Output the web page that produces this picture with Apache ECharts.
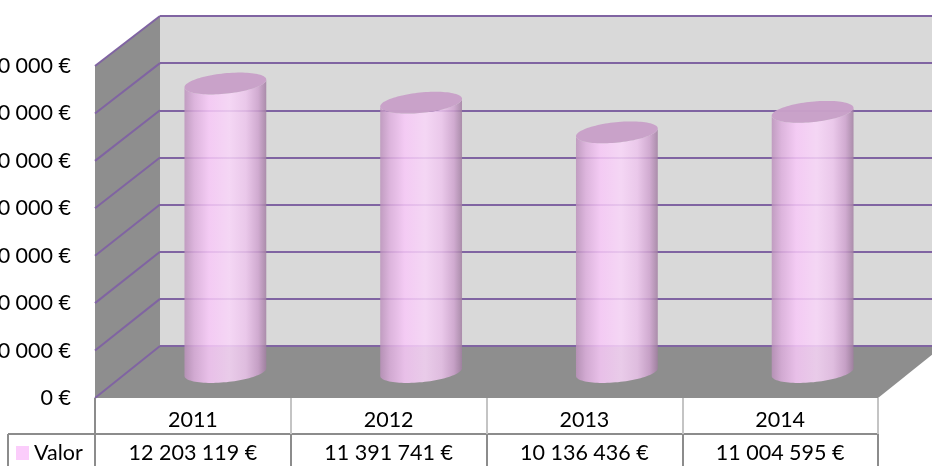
<!DOCTYPE html>
<html><head><meta charset="utf-8">
<script src="https://cdn.jsdelivr.net/npm/echarts/dist/echarts.min.js"></script>
<style>html,body{margin:0;padding:0;background:#fff}#c{width:932px;height:466px}</style>
</head><body><div id="c"></div>
<script>
const categories = ['2011', '2012', '2013', '2014'];
const values = [12203119, 11391741, 10136436, 11004595];
const seriesName = 'Valor';
const yMin = 0, yMax = 14000000, yStep = 2000000;

function fmt(v) { return String(Math.round(v)).replace(/\B(?=(\d{3})+(?!\d))/g, ' ') + ' €'; }

const FONT = 'Lato';
const FS = 21.5;
const PURPLE = '#8064A2';
const WALL = '#8E8E8E';
const TABLE_DARK = '#8C8C8C';
const TABLE_LIGHT = '#C4C4C4';

const bodyFill = {type: 'linear', x: 0, y: 0, x2: 1, y2: 0, colorStops: [
  {offset: 0, color: '#BC92BC'}, {offset: 0.12, color: '#DDAEDD'}, {offset: 0.3, color: '#F8C8F8'},
  {offset: 0.55, color: '#F9D6F9'}, {offset: 0.75, color: '#EDC5ED'}, {offset: 0.9, color: '#CFA3CF'},
  {offset: 1, color: '#A27FA2'}]};

const gridBase = {containLabel: false, outerBoundsMode: 'none'};
const chart = echarts.init(document.getElementById('c'));
const option = {
  animation: false,
  backgroundColor: '#fff',
  grid: [
    Object.assign({left: 160, top: 16, width: 783, height: 330, show: true, backgroundColor: '#D9D9D9', borderWidth: 0}, gridBase),
    Object.assign({left: 95, top: 66, width: 783, height: 332, show: false}, gridBase),
    Object.assign({left: 127.5, top: 41, width: 783, height: 331, show: false}, gridBase)
  ],
  xAxis: [
    {gridIndex: 0, type: 'category', data: categories, show: false},
    {gridIndex: 1, type: 'category', data: categories, position: 'bottom',
      axisLine: {show: false},
      axisTick: {show: true, length: 36, interval: 0, lineStyle: {color: TABLE_LIGHT, width: 2}},
      axisLabel: {margin: 11, fontSize: FS, fontFamily: FONT, color: '#000', interval: 0}},
    {gridIndex: 1, type: 'category', data: categories, position: 'bottom', offset: 36,
      axisLine: {show: true, lineStyle: {color: TABLE_DARK, width: 2}},
      axisTick: {show: true, length: 32, interval: 0, lineStyle: {color: TABLE_DARK, width: 2}},
      axisLabel: {margin: 8, fontSize: FS, fontFamily: FONT, color: '#000', interval: 0,
        formatter: (v, i) => fmt(values[i])}},
    {gridIndex: 2, type: 'category', data: categories, show: false}
  ],
  yAxis: [
    {gridIndex: 0, type: 'value', min: yMin, max: yMax, interval: yStep,
      axisLabel: {show: false}, axisLine: {show: false}, axisTick: {show: false},
      splitLine: {show: true, lineStyle: {color: PURPLE, width: 2}}},
    {gridIndex: 1, type: 'value', min: yMin, max: yMax, interval: yStep,
      axisLine: {show: false}, axisTick: {show: false}, splitLine: {show: false},
      axisLabel: {margin: 24, fontSize: FS, fontFamily: FONT, color: '#000', formatter: fmt, hideOverlap: false}},
    {gridIndex: 2, type: 'value', min: yMin, max: yMax, interval: yStep, show: false}
  ],
  legend: {left: 16, top: 442, padding: 0, icon: 'rect', itemWidth: 13, itemHeight: 14, itemGap: 5,
    textStyle: {fontSize: FS, fontFamily: FONT, color: '#000'}, data: [seriesName]},
  series: [{
    name: seriesName, type: 'custom', xAxisIndex: 3, yAxisIndex: 2,
    itemStyle: {color: '#FBCDFB'},
    encode: {x: 0, y: 1},
    data: values.map((v, i) => [i, v]),
    renderItem: function (params, api) {
      const i = api.value(0), v = api.value(1);
      const b = api.coord([i, 0]), t = api.coord([i, v]);
      const band = api.size([1, 0])[0];
      const rx = band * 0.21, ry = band * 0.052, th = -0.1;
      const cx = b[0];
      const E = (cy, a) => [cx + rx * Math.cos(a) * Math.cos(th) - ry * Math.sin(a) * Math.sin(th),
        cy + rx * Math.cos(a) * Math.sin(th) + ry * Math.sin(a) * Math.cos(th)];
      const N = 48, body = [], cap = [];
      for (let k = 0; k <= N; k++) body.push(E(b[1], Math.PI - Math.PI * k / N));
      for (let k = 0; k <= N; k++) body.push(E(t[1], Math.PI * k / N));
      for (let k = 0; k < 2 * N; k++) cap.push(E(t[1], Math.PI * k / N));
      return {type: 'group', children: [
        {type: 'polygon', shape: {points: body}, style: {fill: bodyFill, opacity: 0.85}},
        {type: 'polygon', shape: {points: cap}, style: {fill: '#C8A0C8', opacity: 0.97}}
      ]};
    }
  }]
};
chart.setOption(option);

// walls / floor, derived from the axes of the back (index 0) and front (index 1) planes
function planeX(idx) {
  const c0 = chart.convertToPixel({xAxisIndex: idx}, 0);
  const c1 = chart.convertToPixel({xAxisIndex: idx}, 1);
  const cN = chart.convertToPixel({xAxisIndex: idx}, categories.length - 1);
  const band = c1 - c0;
  return [c0 - band / 2, cN + band / 2];
}
const [fl, fr] = planeX(1), [bl, br] = planeX(0);
const yF = v => chart.convertToPixel({yAxisIndex: 1}, v);
const yB = v => chart.convertToPixel({yAxisIndex: 0}, v);
const els = [];
els.push({type: 'polygon', z: 1, shape: {points: [[fl, yF(yMin)], [fl, yF(yMax)], [bl, yB(yMax)], [bl, yB(yMin)]]}, style: {fill: WALL}});
els.push({type: 'polygon', z: 1, shape: {points: [[fl, yF(yMin)], [fr, yF(yMin)], [br, yB(yMin)], [bl, yB(yMin)]]}, style: {fill: WALL}});
for (let v = yMin; v <= yMax; v += yStep) {
  els.push({type: 'line', z: 1.5, shape: {x1: fl, y1: yF(v), x2: bl, y2: yB(v)}, style: {stroke: PURPLE, lineWidth: 2}});
}
els.push({type: 'line', z: 1.5, shape: {x1: bl, y1: yB(yMin), x2: br, y2: yB(yMin)}, style: {stroke: PURPLE, lineWidth: 2}});
// table: series label cell and first column border
const rowLine = yF(yMin) + 36;
els.push({type: 'line', z: 3, shape: {x1: 8, y1: rowLine, x2: fl, y2: rowLine}, style: {stroke: TABLE_DARK, lineWidth: 2}});
els.push({type: 'line', z: 3, shape: {x1: 8, y1: rowLine, x2: 8, y2: 466}, style: {stroke: TABLE_DARK, lineWidth: 2}});
els.push({type: 'line', z: 3, shape: {x1: fl, y1: yF(yMin), x2: fl, y2: 466}, style: {stroke: TABLE_DARK, lineWidth: 2}});
chart.setOption({graphic: {elements: els}});
</script>
</body></html>
